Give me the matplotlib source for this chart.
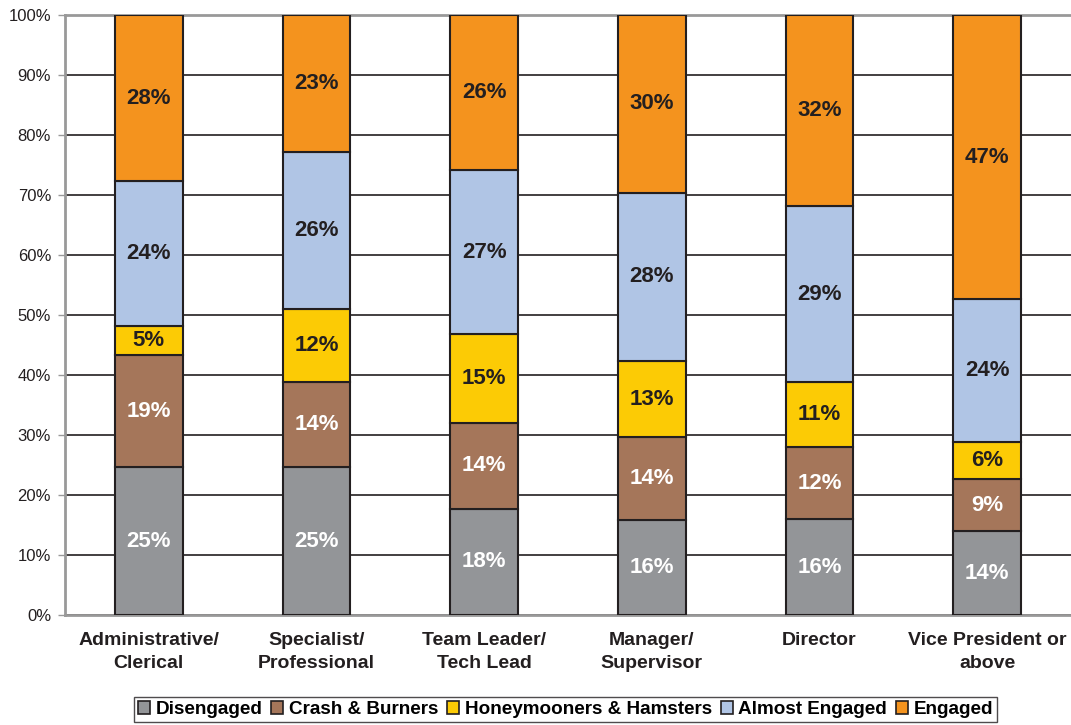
import matplotlib
matplotlib.use("Agg")
import matplotlib.pyplot as plt
from matplotlib.patches import Patch
import numpy as np

plt.rcParams['font.family'] = ['Liberation Sans', 'DejaVu Sans']

categories = ["Administrative/\nClerical", "Specialist/\nProfessional", "Team Leader/\nTech Lead",
              "Manager/\nSupervisor", "Director", "Vice President or\nabove"]
series_names = ["Disengaged", "Crash & Burners", "Honeymooners & Hamsters", "Almost Engaged", "Engaged"]

disengaged = [24.6, 24.6, 17.7, 15.8, 16.0, 14.0]
crash_burners = [18.7, 14.2, 14.3, 13.9, 12.0, 8.6]
honeymooners = [4.9, 12.2, 14.8, 12.6, 10.8, 6.2]
almost_engaged = [24.1, 26.2, 27.4, 28.1, 29.4, 23.8]
engaged = [27.7, 22.8, 25.8, 29.6, 31.8, 47.4]

colors = ["#939598", "#A5765A", "#FCCB05", "#B0C5E5", "#F4931E"]
label_colors = ["white", "white", "#231F20", "#231F20", "#231F20"]

data = [disengaged, crash_burners, honeymooners, almost_engaged, engaged]

fig = plt.figure(figsize=(10.71, 7.25), dpi=100)
ax = fig.add_axes([0.0607, 0.1517, 0.9393, 0.8276])

x = np.arange(len(categories))
width = 0.405
bottom = np.zeros(len(categories))
for vals, col, lc in zip(data, colors, label_colors):
    vals = np.array(vals)
    ax.bar(x, vals, width, bottom=bottom, color=col, edgecolor="#231F20", linewidth=1.5, zorder=3)
    for xi, b, v in zip(x, bottom, vals):
        ax.text(xi, b + v / 2, f"{v:.0f}%", ha="center", va="center", fontsize=16,
                fontweight="bold", color=lc, zorder=4)
    bottom += vals

ax.set_xlim(-0.5, 5.5)
ax.set_ylim(0, 100)
ax.set_yticks(np.arange(0, 101, 10))
ax.set_yticklabels([f"{v}%" for v in range(0, 101, 10)], fontsize=12, color="#231F20")
ax.yaxis.grid(True, color="#231F20", linewidth=1.2, zorder=0)
ax.set_axisbelow(True)
ax.tick_params(axis="y", length=5, width=1, color="#999999", pad=5)
ax.set_xticks(x)
ax.set_xticklabels(categories, fontsize=14, fontweight="bold", color="#231F20", linespacing=1.5)
ax.tick_params(axis="x", length=0, pad=12)

for side in ["left", "bottom", "top"]:
    ax.spines[side].set_color("#999999")
    ax.spines[side].set_linewidth(2)
ax.spines["right"].set_visible(False)

handles = [Patch(facecolor=c, edgecolor="#231F20", linewidth=1.2) for c in colors]
leg = fig.legend(handles, series_names, loc="lower center", bbox_to_anchor=(0.528, 0.0),
                 ncol=5, frameon=True, fancybox=False, edgecolor="#231F20",
                 prop={"size": 13.6, "weight": "bold"}, handlelength=0.65, handleheight=0.65,
                 handletextpad=0.3, columnspacing=0.45, borderpad=0.22, borderaxespad=0.15)
leg.get_frame().set_linewidth(1.0)

fig.savefig("out.png", dpi=100)
